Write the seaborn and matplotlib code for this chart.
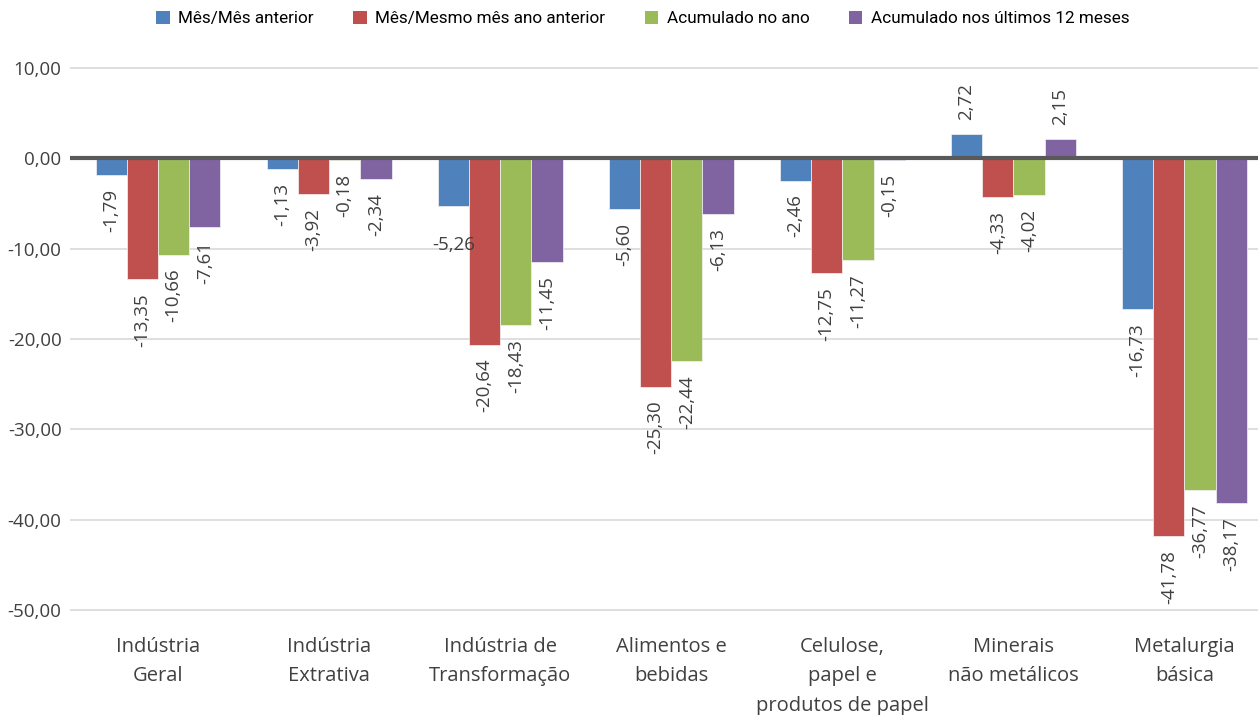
import matplotlib
matplotlib.use("Agg")
import matplotlib.pyplot as plt
from matplotlib.patches import Patch
from matplotlib.ticker import FuncFormatter
import pandas as pd
import seaborn as sns

# Categorias e séries
categorias = [
    "Indústria\nGeral",
    "Indústria\nExtrativa",
    "Indústria de\nTransformação",
    "Alimentos e\nbebidas",
    "Celulose,\npapel e\nprodutos de papel",
    "Minerais\nnão metálicos",
    "Metalurgia\nbásica",
]
series = [
    "Mês/Mês anterior",
    "Mês/Mesmo mês ano anterior",
    "Acumulado no ano",
    "Acumulado nos últimos 12 meses",
]

mes_mes_anterior = [-1.79, -1.13, -5.26, -5.60, -2.46, 2.72, -16.73]
mes_mesmo_mes_ano_anterior = [-13.35, -3.92, -20.64, -25.30, -12.75, -4.33, -41.78]
acumulado_ano = [-10.66, -0.18, -18.43, -22.44, -11.27, -4.02, -36.77]
acumulado_12_meses = [-7.61, -2.34, -11.45, -6.13, -0.15, 2.15, -38.17]

valores = [mes_mes_anterior, mes_mesmo_mes_ano_anterior, acumulado_ano, acumulado_12_meses]
cores = ["#4F81BD", "#C0504D", "#9BBB59", "#8064A2"]
y_ticks = [10, 0, -10, -20, -30, -40, -50]

# Rótulos escritos na horizontal
rotulos_horizontais = {(series[0], categorias[2])}

df = pd.DataFrame(
    [(c, s, v) for s, vals in zip(series, valores) for c, v in zip(categorias, vals)],
    columns=["Categoria", "Série", "Valor"],
)

sns.set_theme(style="white")
plt.rcParams["font.family"] = ["Open Sans", "DejaVu Sans"]
texto = "#404040"

fig = plt.figure(figsize=(12.58, 7.15), dpi=100)
ax = fig.add_axes([0.0556, 0.1406, 0.9444, 0.7706])

sns.barplot(
    data=df, x="Categoria", y="Valor", hue="Série",
    order=categorias, hue_order=series, palette=cores,
    width=0.73, saturation=1, edgecolor="#f4f4f4", linewidth=0.5,
    legend=False, ax=ax, zorder=2,
)

ax.set_xlim(-0.515, 6.43)
ax.set_ylim(-50.5, 10.5)
ax.set_yticks(y_ticks)
ax.yaxis.set_major_formatter(FuncFormatter(lambda v, _: f"{v:.2f}".replace(".", ",")))
ax.grid(axis="y", color="#D9D9D9", linewidth=1.2, zorder=0)
ax.grid(axis="x", visible=False)
ax.axhline(0, color="#595959", linewidth=3, zorder=4)
for sp in ax.spines.values():
    sp.set_visible(False)
ax.set_xlabel("")
ax.set_ylabel("")
ax.tick_params(axis="y", length=0, pad=6, labelsize=13.5, labelcolor=texto)
ax.tick_params(axis="x", length=0, pad=16, labelsize=14.5, labelcolor=texto)
for lbl in ax.get_xticklabels():
    lbl.set_linespacing(1.65)

# Rótulos de valor
for s, cont, vals in zip(series, ax.containers, valores):
    for c, barra, v in zip(categorias, cont, vals):
        x = barra.get_x() + barra.get_width() / 2
        rotulo = f"{v:.2f}".replace(".", ",")
        if (s, c) in rotulos_horizontais:
            ax.annotate(rotulo, xy=(x, v), xytext=(0, -39), textcoords="offset pixels",
                        ha="center", va="center", fontsize=13.5, color=texto,
                        annotation_clip=False, zorder=5)
        else:
            neg = v < 0
            ax.annotate(rotulo, xy=(x, v), xytext=(0, -14 if neg else 14),
                        textcoords="offset pixels", rotation=90, ha="center",
                        va="top" if neg else "bottom", fontsize=13.5, color=texto,
                        annotation_clip=False, zorder=5)

handles = [Patch(facecolor=c, edgecolor="none") for c in cores]
fig.legend(
    handles, series, loc="center", bbox_to_anchor=(0.511, 0.974), ncol=4,
    frameon=False, handlelength=0.8, handleheight=0.8, handletextpad=0.5,
    columnspacing=2.3,
    prop={"family": ["Roboto", "DejaVu Sans"], "size": 12.3},
    labelcolor="#000000",
)

fig.savefig("out.png", dpi=100)
